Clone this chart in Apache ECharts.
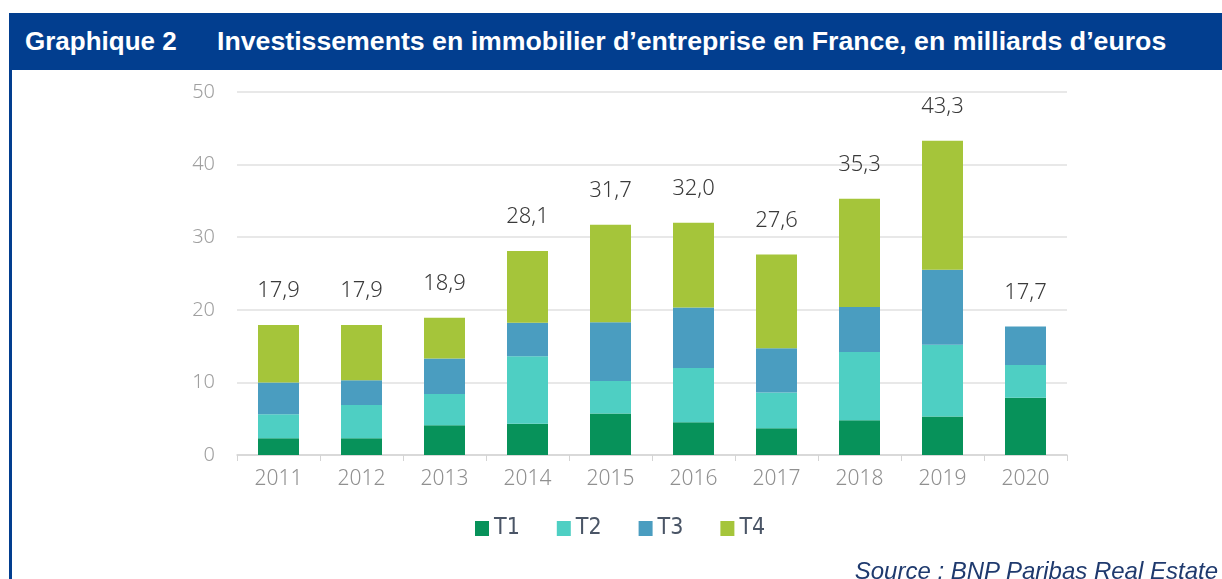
<!DOCTYPE html>
<html>
<head>
<meta charset="utf-8">
<script src="https://cdn.jsdelivr.net/npm/echarts@6/dist/echarts.min.js"></script>
<style>
  html, body { margin: 0; padding: 0; background: #fff; }
  body { width: 1222px; height: 579px; position: relative; overflow: hidden; }
  .frame { position: absolute; left: 9px; top: 13px; width: 1213px; height: 580px; border-left: 3px solid #023e8f; box-sizing: border-box; }
  .header { position: absolute; left: 9px; top: 13px; width: 1213px; height: 57px; background: #023e8f; color: #fff;
    font-family: "Liberation Sans", Arial, sans-serif; font-weight: bold; font-size: 26px; line-height: 57px; white-space: nowrap; }
  .header .num { position: absolute; left: 16px; }
  .header .ttl { position: absolute; left: 208px; font-size: 26.7px; }
  .source { position: absolute; right: 4px; top: 557px; font-family: "Liberation Sans", Arial, sans-serif; font-style: italic;
    font-size: 24px; color: #1f3a6e; white-space: nowrap; }
  #chart { position: absolute; left: 0; top: 0; width: 1222px; height: 579px; }
</style>
</head>
<body>
<div class="frame"></div>
<div class="header"><span class="num">Graphique 2</span><span class="ttl">Investissements en immobilier d’entreprise en France, en milliards d’euros</span></div>
<div id="chart"></div>
<div class="source">Source : BNP Paribas Real Estate</div>
<script>
// années
var years = ['2011', '2012', '2013', '2014', '2015', '2016', '2017', '2018', '2019', '2020']
// trimestres, en milliards d'euros
var t1 = [2.3, 2.3, 4.1, 4.3, 5.7, 4.5, 3.7, 4.8, 5.3, 7.9]
var t2 = [3.3, 4.6, 4.3, 9.3, 4.5, 7.5, 4.9, 9.4, 9.9, 4.5]
var t3 = [4.4, 3.4, 4.9, 4.6, 8.1, 8.3, 6.1, 6.2, 10.3, 5.3]
var t4 = [7.9, 7.6, 5.6, 9.9, 13.4, 11.7, 12.9, 14.9, 17.8, 0]
// totaux annuels affichés
var totals = [17.9, 17.9, 18.9, 28.1, 31.7, 32.0, 27.6, 35.3, 43.3, 17.7]

var colors = ['#07925a', '#4ecfc3', '#4a9dc0', '#a5c53a']
var axisFont = '"Noto Sans", Lato, sans-serif'

var chart = echarts.init(document.getElementById('chart'))

function quarter(name, data, color) {
  return {
    name: name,
    type: 'bar',
    stack: 'total',
    barWidth: 41,
    itemStyle: { color: color },
    data: data
  }
}

chart.setOption({
  animation: false,
  grid: { left: 237, right: 155, top: 92, bottom: 124 },
  legend: {
    left: 470,
    top: 512,
    itemWidth: 14,
    itemHeight: 15,
    itemGap: 37,
    icon: 'rect',
    textStyle: { color: '#4a5566', fontSize: 23, fontFamily: '"Liberation Sans Narrow", "DejaVu Sans Condensed", sans-serif' },
    data: ['T1', 'T2', 'T3', 'T4']
  },
  xAxis: {
    type: 'category',
    data: years,
    axisLine: { lineStyle: { color: '#d4d4d4', width: 1.5 } },
    axisTick: { show: true, length: 6, lineStyle: { color: '#d4d4d4' } },
    axisLabel: { color: '#909090', fontSize: 21, fontWeight: 300, fontFamily: axisFont, margin: 14 }
  },
  yAxis: {
    type: 'value',
    min: 0,
    max: 50,
    interval: 10,
    axisLine: { show: false },
    axisTick: { show: false },
    splitLine: { lineStyle: { color: '#e0e0e0', width: 1.5 } },
    axisLabel: { color: '#a0a0a0', fontSize: 20, fontWeight: 300, fontFamily: axisFont, margin: 22 }
  },
  series: [
    quarter('T1', t1, colors[0]),
    quarter('T2', t2, colors[1]),
    quarter('T3', t3, colors[2]),
    quarter('T4', t4, colors[3]),
    {
      name: 'Total',
      type: 'bar',
      stack: 'total',
      barWidth: 41,
      itemStyle: { color: 'transparent' },
      label: {
        show: true,
        position: 'top',
        distance: 23,
        color: '#3a3a3a',
        fontSize: 22,
        fontWeight: 300,
        fontFamily: axisFont,
        formatter: function (p) { return totals[p.dataIndex].toFixed(1).replace('.', ',') }
      },
      data: years.map(function () { return 0 })
    }
  ]
})
</script>
</body>
</html>
